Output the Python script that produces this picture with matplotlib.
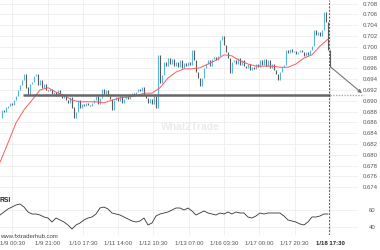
import numpy as np
import matplotlib
matplotlib.use("Agg")
import matplotlib.pyplot as plt

plt.rcParams["font.family"] = ["Liberation Sans", "DejaVu Sans"]

# ---------------- data ----------------
closes = [
    0.6868, 0.6883, 0.6879, 0.6887, 0.6890, 0.6896, 0.6892, 0.6901, 0.6909, 0.6920,
    0.6929, 0.6938, 0.6949, 0.6924, 0.6912, 0.6931, 0.6935, 0.6946, 0.6949, 0.6929,
    0.6938, 0.6924, 0.6931, 0.6920, 0.6918, 0.6922, 0.6912, 0.6916, 0.6909, 0.6920,
    0.6910, 0.6905, 0.6912, 0.6901, 0.6896, 0.6907, 0.6887, 0.6868, 0.6879, 0.6901,
    0.6887, 0.6894, 0.6890, 0.6896, 0.6892, 0.6890, 0.6896, 0.6901, 0.6909, 0.6894,
    0.6905, 0.6922, 0.6912, 0.6920, 0.6909, 0.6903, 0.6883, 0.6901, 0.6907, 0.6899,
    0.6909, 0.6896, 0.6903, 0.6909, 0.6903, 0.6912, 0.6914, 0.6910, 0.6916, 0.6922,
    0.6918, 0.6924, 0.6910, 0.6905, 0.6896, 0.6903, 0.6894, 0.6909, 0.6887, 0.6985,
    0.6933, 0.6948, 0.6972, 0.6964, 0.6979, 0.6968, 0.6977, 0.6964, 0.6972, 0.6962,
    0.6974, 0.6961, 0.6970, 0.6964, 0.6972, 0.6966, 0.6994, 0.6975, 0.6953, 0.6942,
    0.6927, 0.6942, 0.6961, 0.6968, 0.6974, 0.6964, 0.6977, 0.6981, 0.6975, 0.6983,
    0.7012, 0.7020, 0.7003, 0.6990, 0.6979, 0.6951, 0.6972, 0.6975, 0.6968, 0.6979,
    0.6966, 0.6974, 0.6964, 0.6961, 0.6968, 0.6957, 0.6962, 0.6959, 0.6968, 0.6962,
    0.6975, 0.6966, 0.6977, 0.6964, 0.6974, 0.6961, 0.6968, 0.6957, 0.6949, 0.6938,
    0.6953, 0.6962, 0.6966, 0.6994, 0.6988, 0.6996, 0.6990, 0.6992, 0.6987, 0.6990,
    0.6994, 0.6990, 0.6983, 0.6990, 0.6985, 0.6994, 0.7001, 0.7031, 0.7022, 0.7027,
    0.7020, 0.7031, 0.7064, 0.7046, 0.6994, 0.6962,
]

# moving average, read every 4th candle
ma_values = [
    0.6786, 0.6822, 0.6859, 0.6883, 0.6901, 0.6920, 0.6924, 0.6916, 0.6910, 0.6901,
    0.6898, 0.6898, 0.6898, 0.6896, 0.6901, 0.6905, 0.6907, 0.6909, 0.6914, 0.6914,
    0.6924, 0.6942, 0.6953, 0.6959, 0.6959, 0.6961, 0.6968, 0.6975, 0.6985, 0.6983,
    0.6974, 0.6968, 0.6964, 0.6964, 0.6964, 0.6962, 0.6962, 0.6968, 0.6979, 0.6985,
    0.7001, 0.7014,
]

# RSI, read every 2nd candle
rsi_values = [
    54.0, 57.6, 61.2, 63.6, 66.0, 67.2, 63.6, 57.6, 55.2, 55.2,
    54.0, 51.6, 50.4, 45.6, 50.4, 48.0, 45.6, 42.0, 37.2, 42.0,
    44.4, 48.0, 50.4, 51.6, 55.2, 62.4, 63.6, 61.2, 56.4, 55.2,
    54.0, 51.6, 49.2, 46.8, 45.6, 46.8, 50.4, 42.0, 44.4, 52.8,
    55.2, 56.4, 57.6, 60.0, 62.4, 62.4, 60.0, 62.4, 58.8, 54.0,
    56.4, 58.8, 56.4, 55.2, 54.0, 56.4, 55.2, 57.6, 55.2, 57.6,
    56.4, 56.4, 51.6, 50.4, 52.8, 56.4, 55.2, 56.4, 56.4, 56.4,
    56.4, 52.8, 48.0, 46.8, 45.6, 43.2, 42.0, 45.6, 51.6, 51.6,
    52.8, 55.2, 55.2,
]

support_level = 0.6911
x_labels = ["1/9 00:30", "1/9 21:00", "1/10 17:30", "1/11 14:00", "1/12 10:30",
            "1/13 07:00", "1/16 03:30", "1/17 00:00", "1/17 20:30", "1/18 17:30"]
price_ticks = [0.674, 0.676, 0.678, 0.680, 0.682, 0.684, 0.686, 0.688, 0.690, 0.692,
               0.694, 0.696, 0.698, 0.700, 0.702, 0.704, 0.706, 0.708]
rsi_ticks = [40, 60]

# ---------------- styles ----------------
BLUE = "#56b4e6"
DARK = "#5a5a5a"
GRID = "#eeeeee"
LABEL = "#555555"
FS = 4.3

closes = np.array(closes)
n = len(closes)
idx = np.arange(n)
opens = np.r_[closes[0], closes[:-1]]
ma_idx = np.arange(0, n, 4)[:len(ma_values)]
rsi_idx = np.arange(0, n, 2)[:len(rsi_values)]

fig = plt.figure(figsize=(3.8, 2.5), dpi=100)
ax = fig.add_axes([0.0, 0.22, 0.942, 0.78])
axr = fig.add_axes([0.0, 0.06, 0.942, 0.16], sharex=ax)

last = idx[-1]
tick_step = 17.65
tick_pos = [last - tick_step * (len(x_labels) - 1 - k) for k in range(len(x_labels))]

for a in (ax, axr):
    for s in a.spines.values():
        s.set_visible(False)
    a.set_facecolor("white")
    a.tick_params(length=0)
    a.yaxis.tick_right()
    for tp in tick_pos:
        a.axvline(tp, color=GRID, lw=0.6, zorder=0)

ax.set_xlim(0, 179)
ax.set_ylim(0.67254, 0.70865)
ax.set_yticks(price_ticks)
ax.set_yticklabels([f"{t:.3f}" for t in price_ticks], fontsize=FS, color=LABEL)
ax.tick_params(axis="y", pad=3.5)
for t in price_ticks:
    ax.axhline(t, color=GRID, lw=0.6, zorder=0)
ax.tick_params(axis="x", labelbottom=False)

# watermark
fig.text(0.50, 0.49, "What2Trade", fontsize=7.5, fontweight="bold",
         color="#ebebeb", ha="center", va="center", zorder=0)

# candles
up = closes >= opens
lo = np.minimum(opens, closes)
hi = np.maximum(opens, closes) + 0.00005
ax.vlines(idx[up], lo[up], hi[up], color=BLUE, lw=0.8, zorder=2)
ax.vlines(idx[~up], lo[~up], hi[~up], color=DARK, lw=0.8, zorder=2)

# moving average
ax.plot(ma_idx, ma_values, color="#ff5a5a", lw=0.7, zorder=3)

# support line
ax.plot([11.5, last], [support_level, support_level], color="#666666", lw=1.8,
        zorder=4, solid_capstyle="butt")
ax.plot([last, 182], [support_level, support_level], color="#aaaaaa", lw=1.0,
        ls=(0, (1, 1)), zorder=4, clip_on=False)

# projection arrow
ax.annotate("", xy=(181, support_level + 0.0003), xytext=(last + 0.5, closes[-1]),
            arrowprops=dict(arrowstyle="-|>", color="#777777", lw=0.8,
                            mutation_scale=5, shrinkA=0, shrinkB=0),
            annotation_clip=False, zorder=5)

# vertical current-time line
for a in (ax, axr):
    a.axvline(last - 0.5, color="#555555", lw=0.7, ls=(0, (2, 1.5)), zorder=5)

# RSI panel
axr.set_ylim(30, 78)
axr.set_yticks(rsi_ticks)
axr.set_yticklabels([str(t) for t in rsi_ticks], fontsize=FS, color=LABEL)
axr.tick_params(axis="y", pad=8)
for t in rsi_ticks:
    axr.axhline(t, color=GRID, lw=0.6, zorder=0)
axr.plot(rsi_idx, rsi_values, color="#333333", lw=0.6, zorder=3)
axr.text(-0.5, 75, "RSI", fontsize=4.8, fontweight="bold", color="#222222",
         ha="left", va="top")

axr.set_xticks(tick_pos)
axr.set_xticklabels(x_labels, fontsize=FS, color=LABEL)
axr.tick_params(axis="x", pad=4)
lbls = axr.get_xticklabels()
lbls[-1].set_fontweight("bold")
lbls[-1].set_color("#222222")

fig.text(0.0, 0.054, "www.fxtraderhub.com", fontsize=4.3, color="#444444",
         ha="left", va="center")

fig.savefig("out.png", dpi=100, facecolor="white")
